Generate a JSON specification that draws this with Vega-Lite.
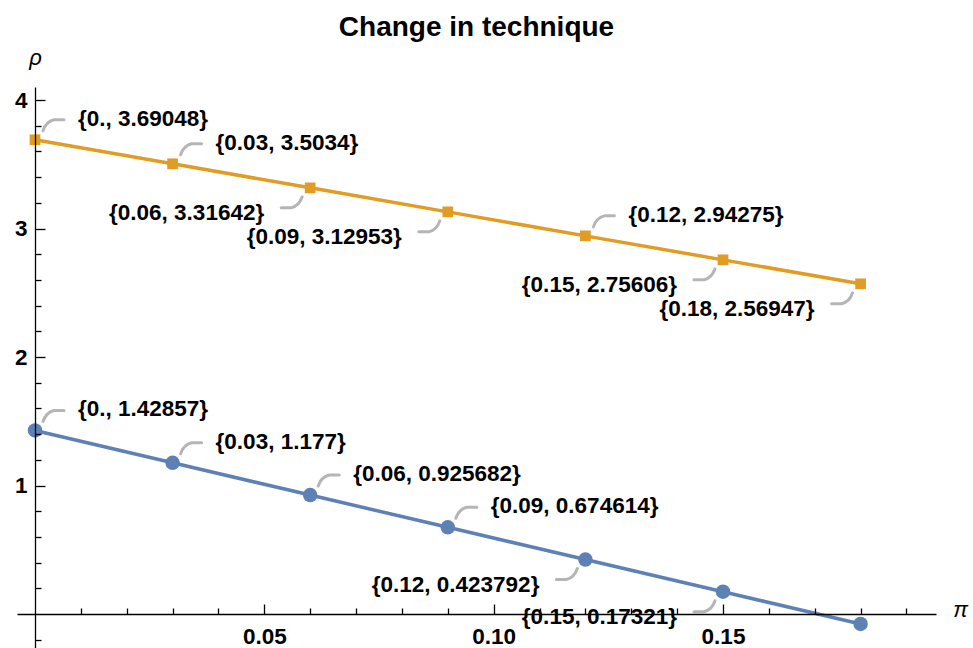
{
  "$schema": "https://vega.github.io/schema/vega-lite/v6.json",
  "width": 919,
  "height": 561,
  "autosize": {"type": "none"},
  "padding": {"left": 17, "top": 87, "right": 37, "bottom": 0},
  "background": "white",
  "config": {"view": {"stroke": null}},
  "title": {
    "text": "Change in technique",
    "font": "Liberation Sans",
    "fontSize": 28,
    "fontWeight": "bold",
    "color": "black",
    "anchor": "middle",
    "baseline": "alphabetic",
    "offset": -18
  },
  "data": {
    "values": [
      {"s": "b", "x": 0, "y": 1.42857, "label": "{0., 1.42857}"},
      {"s": "b", "x": 0.03, "y": 1.177, "label": "{0.03, 1.177}"},
      {"s": "b", "x": 0.06, "y": 0.925682, "label": "{0.06, 0.925682}"},
      {"s": "b", "x": 0.09, "y": 0.674614, "label": "{0.09, 0.674614}"},
      {"s": "b", "x": 0.12, "y": 0.423792, "label": "{0.12, 0.423792}"},
      {"s": "b", "x": 0.15, "y": 0.17321, "label": "{0.15, 0.17321}"},
      {"s": "b", "x": 0.18, "y": -0.0776, "label": null},
      {"s": "o", "x": 0, "y": 3.69048, "label": "{0., 3.69048}"},
      {"s": "o", "x": 0.03, "y": 3.5034, "label": "{0.03, 3.5034}"},
      {"s": "o", "x": 0.06, "y": 3.31642, "label": "{0.06, 3.31642}"},
      {"s": "o", "x": 0.09, "y": 3.12953, "label": "{0.09, 3.12953}"},
      {"s": "o", "x": 0.12, "y": 2.94275, "label": "{0.12, 2.94275}"},
      {"s": "o", "x": 0.15, "y": 2.75606, "label": "{0.15, 2.75606}"},
      {"s": "o", "x": 0.18, "y": 2.56947, "label": "{0.18, 2.56947}"}
    ]
  },
  "encoding": {
    "x": {
      "field": "x",
      "type": "quantitative",
      "scale": {"domain": [-0.003924, 0.19644], "nice": false, "zero": false},
      "axis": {
        "orient": "bottom",
        "offset": -34,
        "zindex": 1,
        "grid": false,
        "values": [0.01, 0.02, 0.03, 0.04, 0.05, 0.06, 0.07, 0.08, 0.09, 0.1, 0.11, 0.12, 0.13, 0.14, 0.15, 0.16, 0.17, 0.18, 0.19],
        "labelExpr": "indexof([0.05, 0.1, 0.15], datum.value) >= 0 ? format(datum.value, '.2f') : ''",
        "tickSize": {"condition": {"test": "indexof([0.05, 0.1, 0.15], datum.value) >= 0", "value": -10}, "value": -6},
        "tickColor": "black",
        "tickWidth": 1.3,
        "domainColor": "black",
        "domainWidth": 1.3,
        "labelFont": "Liberation Sans",
        "labelFontSize": 22.5,
        "labelFontWeight": "bold",
        "labelColor": "black",
        "labelPadding": 21,
        "labelFlush": false,
        "labelOverlap": false,
        "title": "π",
        "titleX": 943,
        "titleY": 2,
        "titleAngle": 0,
        "titleAlign": "center",
        "titleBaseline": "alphabetic",
        "titleFont": "Liberation Sans",
        "titleFontStyle": "italic",
        "titleFontWeight": "normal",
        "titleFontSize": 22,
        "titleColor": "black"
      }
    },
    "y": {
      "field": "y",
      "type": "quantitative",
      "scale": {"domain": [-0.2646, 4.1012], "nice": false, "zero": false},
      "axis": {
        "orient": "left",
        "offset": -18,
        "zindex": 1,
        "grid": false,
        "values": [-0.2, 0.2, 0.4, 0.6, 0.8, 1, 1.2, 1.4, 1.6, 1.8, 2, 2.2, 2.4, 2.6, 2.8, 3, 3.2, 3.4, 3.6, 3.8, 4],
        "labelExpr": "indexof([1, 2, 3, 4], datum.value) >= 0 ? format(datum.value, 'd') : ''",
        "tickSize": {"condition": {"test": "indexof([1, 2, 3, 4], datum.value) >= 0", "value": -10}, "value": -6},
        "tickColor": "black",
        "tickWidth": 1.3,
        "domainColor": "black",
        "domainWidth": 1.3,
        "labelFont": "Liberation Sans",
        "labelFontSize": 22.5,
        "labelFontWeight": "bold",
        "labelColor": "black",
        "labelPadding": 18,
        "labelFlush": false,
        "labelOverlap": false,
        "title": "ρ",
        "titleX": 0,
        "titleY": -23,
        "titleAngle": 0,
        "titleAlign": "center",
        "titleBaseline": "alphabetic",
        "titleFont": "Liberation Sans",
        "titleFontStyle": "italic",
        "titleFontWeight": "normal",
        "titleFontSize": 22,
        "titleColor": "black"
      }
    }
  },
  "layer": [
    {
      "mark": {"type": "line", "strokeWidth": 3.5},
      "encoding": {
        "color": {"field": "s", "type": "nominal", "scale": {"domain": ["b", "o"], "range": ["#5E81B5", "#E19C24"]}, "legend": null}
      }
    },
    {
      "transform": [{"filter": "datum.s == 'b'"}],
      "mark": {"type": "point", "shape": "circle", "filled": true, "size": 210, "color": "#5E81B5", "opacity": 1}
    },
    {
      "transform": [{"filter": "datum.s == 'o'"}],
      "mark": {"type": "point", "shape": "square", "filled": true, "size": 115, "color": "#E19C24", "opacity": 1}
    },
    {
      "transform": [{"filter": "(datum.s == 'b' && datum.x < 0.1) || (datum.s == 'o' && (datum.x < 0.05 || (datum.x > 0.11 && datum.x < 0.13)))"}],
      "mark": {"type": "text", "align": "left", "baseline": "middle", "dx": 43, "dy": -21, "font": "Liberation Sans", "fontSize": 22.5, "fontWeight": "bold", "color": "black"},
      "encoding": {"text": {"field": "label"}}
    },
    {
      "transform": [{"filter": "datum.label != null && !((datum.s == 'b' && datum.x < 0.1) || (datum.s == 'o' && (datum.x < 0.05 || (datum.x > 0.11 && datum.x < 0.13))))"}],
      "mark": {"type": "text", "align": "right", "baseline": "middle", "dx": -46, "dy": 25, "font": "Liberation Sans", "fontSize": 22.5, "fontWeight": "bold", "color": "black"},
      "encoding": {"text": {"field": "label"}}
    },
    {
      "transform": [{"filter": "(datum.s == 'b' && datum.x < 0.1) || (datum.s == 'o' && (datum.x < 0.05 || (datum.x > 0.11 && datum.x < 0.13)))"}],
      "mark": {"type": "point", "shape": "M 8 -9 Q 11 -18 19 -20 L 29 -20", "size": 4, "filled": false, "stroke": "#B5B5B5", "strokeWidth": 3, "strokeCap": "round", "opacity": 1}
    },
    {
      "transform": [{"filter": "datum.label != null && !((datum.s == 'b' && datum.x < 0.1) || (datum.s == 'o' && (datum.x < 0.05 || (datum.x > 0.11 && datum.x < 0.13))))"}],
      "mark": {"type": "point", "shape": "M -8 9 Q -11 18 -19 20 L -29 20", "size": 4, "filled": false, "stroke": "#B5B5B5", "strokeWidth": 3, "strokeCap": "round", "opacity": 1}
    }
  ]
}
